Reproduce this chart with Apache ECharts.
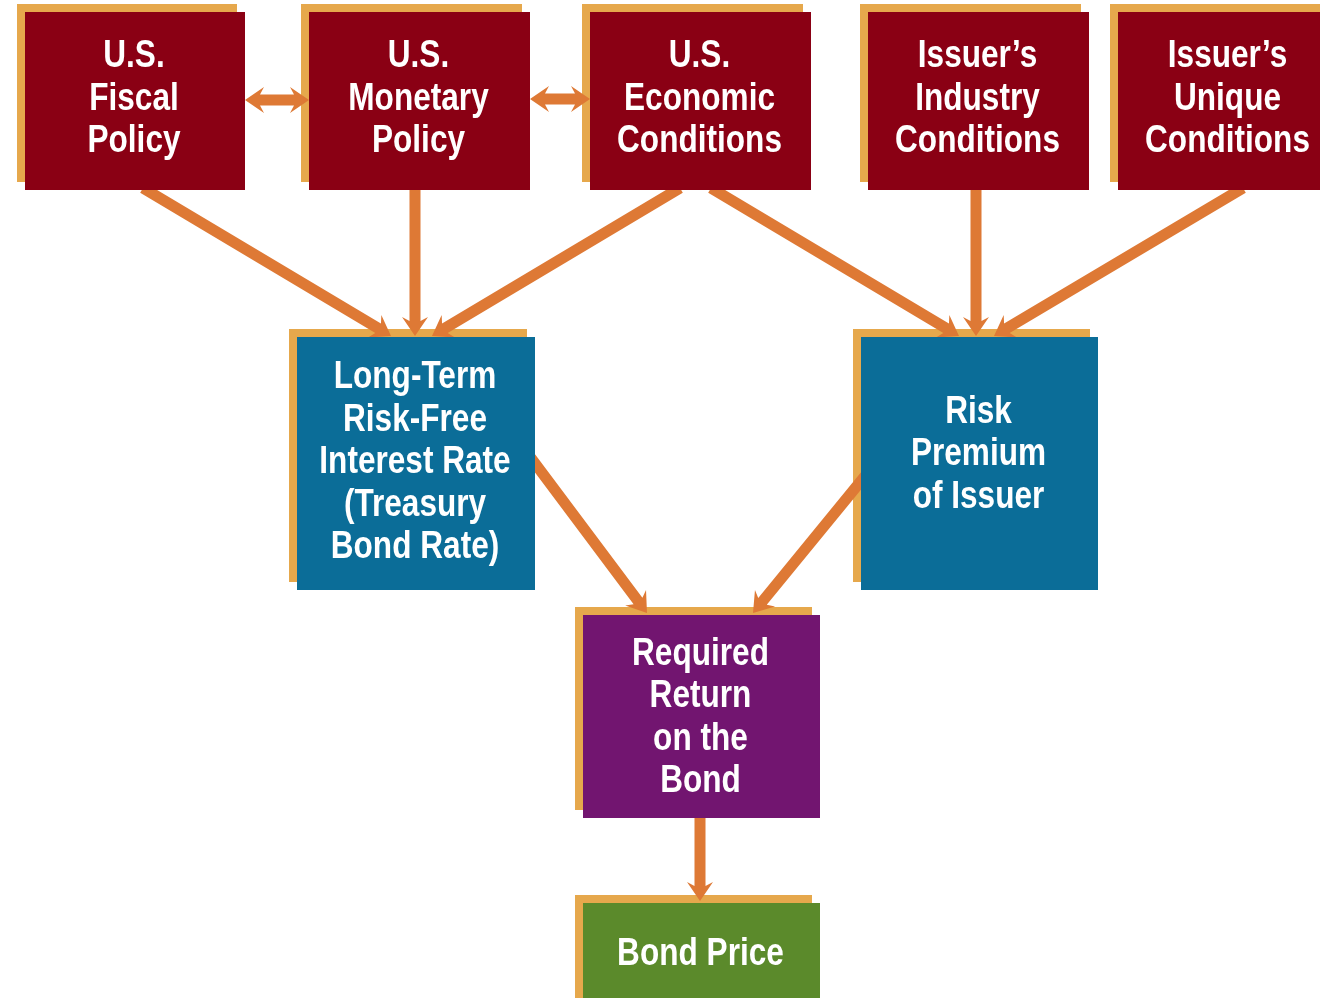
<!DOCTYPE html>
<html>
<head>
<meta charset="utf-8">
<script src="https://cdn.jsdelivr.net/npm/echarts@6/dist/echarts.min.js"></script>
<style>
  html, body { margin: 0; padding: 0; background: #fff; }
  #main { width: 1320px; height: 998px; }
</style>
</head>
<body>
<div id="main"></div>
<script>
// box texts and fills
var boxLabels = [
  'U.S.\nFiscal\nPolicy',
  'U.S.\nMonetary\nPolicy',
  'U.S.\nEconomic\nConditions',
  'Issuer\u2019s\nIndustry\nConditions',
  'Issuer\u2019s\nUnique\nConditions',
  'Long-Term\nRisk-Free\nInterest Rate\n(Treasury\nBond Rate)',
  'Risk\nPremium\nof Issuer',
  'Required\nReturn\non the\nBond',
  'Bond Price'
]
var boxFills = ['#8a0014', '#8a0014', '#8a0014', '#8a0014', '#8a0014',
  '#0b6d98', '#0b6d98', '#721570', '#5b8a2b']

// box extents in diagram units (x right, y down)
var boxLeft = [25, 309, 590, 868, 1118, 297, 861, 583, 583]
var boxTop = [12, 12, 12, 12, 12, 337, 337, 615, 903]
var boxRight = [245, 530, 811, 1089, 1339, 535, 1098, 820, 820]
var boxBottom = [190, 190, 190, 190, 190, 590, 590, 818, 1010]
var textShift = [-2, -2, -2, -2, -2, -1, -9, 1, -2]

// arrows: start point, tip point, double headed or not
var arrowFrom = [[143, 188], [415, 188], [680, 188], [711, 188], [976, 188], [1243, 188],
  [525, 450], [870, 470], [700, 816], [245, 100], [530, 99]]
var arrowTo = [[391, 336], [415, 336], [432, 336], [959, 336], [976, 336], [994, 336],
  [647, 613], [753, 613], [700, 901], [309, 100], [590, 99]]
var arrowBoth = [0, 0, 0, 0, 0, 0, 0, 0, 0, 1, 1]

var gold = '#e6a84c'
var orange = '#de7935'
var shadowOff = 8

var boxData = boxLabels.map(function (t, i) {
  return [boxLeft[i], boxTop[i], boxRight[i], boxBottom[i], i]
})
var arrowData = arrowFrom.map(function (p, i) {
  return [p[0], p[1], arrowTo[i][0], arrowTo[i][1], arrowBoth[i]]
})

function rectOf(api) {
  var a = api.coord([api.value(0), api.value(1)])
  var b = api.coord([api.value(2), api.value(3)])
  return { x: a[0], y: a[1], width: b[0] - a[0], height: b[1] - a[1] }
}

function renderGold(params, api) {
  var r = rectOf(api)
  return {
    type: 'rect',
    shape: { x: r.x - shadowOff, y: r.y - shadowOff, width: r.width, height: r.height },
    style: { fill: gold }
  }
}

function renderBox(params, api) {
  var r = rectOf(api)
  var i = api.value(4)
  return {
    type: 'group',
    children: [{
      type: 'rect',
      shape: r,
      style: { fill: boxFills[i] }
    }, {
      type: 'text',
      x: r.x + r.width / 2 - 1,
      y: r.y + r.height / 2 + textShift[i],
      scaleX: 0.81,
      style: {
        text: boxLabels[i],
        fill: '#ffffff',
        font: 'bold 39px "Liberation Sans", Arial, sans-serif',
        lineHeight: 42.5,
        align: 'center',
        verticalAlign: 'middle'
      }
    }]
  }
}

function renderArrow(params, api) {
  var s = api.coord([api.value(0), api.value(1)])
  var t = api.coord([api.value(2), api.value(3)])
  var both = api.value(4)
  var dx = t[0] - s[0], dy = t[1] - s[1]
  var len = Math.sqrt(dx * dx + dy * dy)
  var ux = dx / len, uy = dy / len
  var vx = -uy, vy = ux
  var w = 5.5, H = 13, L = 19, n = 4
  function head(tip, dir) {
    // points from one side of the shaft round the tip to the other side
    var bx = tip[0] - dir * ux * L, by = tip[1] - dir * uy * L
    var jx = bx + dir * ux * n, jy = by + dir * uy * n
    return [
      [jx + dir * vx * w, jy + dir * vy * w],
      [bx + dir * vx * H, by + dir * vy * H],
      tip,
      [bx - dir * vx * H, by - dir * vy * H],
      [jx - dir * vx * w, jy - dir * vy * w]
    ]
  }
  var pts = head(t, 1)
  if (both) {
    pts = pts.concat(head(s, -1))
  } else {
    pts.push([s[0] - vx * w, s[1] - vy * w])
    pts.push([s[0] + vx * w, s[1] + vy * w])
  }
  return {
    type: 'polygon',
    shape: { points: pts },
    style: { fill: orange }
  }
}

var chart = echarts.init(document.getElementById('main'))
chart.setOption({
  animation: false,
  backgroundColor: '#ffffff',
  grid: { left: 0, right: 0, top: 0, bottom: 0 },
  xAxis: { type: 'value', min: 0, max: 1320, show: false },
  yAxis: { type: 'value', min: 0, max: 998, inverse: true, show: false },
  series: [{
    type: 'custom',
    z: 1,
    clip: true,
    renderItem: renderGold,
    data: boxData,
    silent: true
  }, {
    type: 'custom',
    z: 2,
    clip: true,
    renderItem: renderArrow,
    data: arrowData,
    silent: true
  }, {
    type: 'custom',
    z: 3,
    clip: true,
    renderItem: renderBox,
    data: boxData,
    silent: true
  }]
})
</script>
</body>
</html>
